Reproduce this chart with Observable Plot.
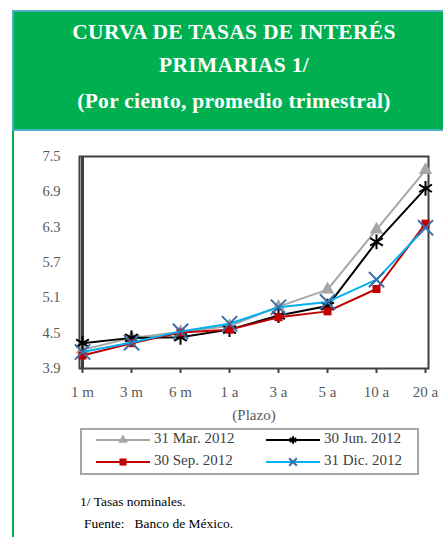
<!DOCTYPE html>
<html>
<head>
<meta charset="utf-8">
<script src="https://cdn.jsdelivr.net/npm/d3@7"></script>
<script src="https://cdn.jsdelivr.net/npm/@observablehq/plot@0.6"></script>
<style>
  html, body { margin: 0; padding: 0; background: #fff; }
  body { width: 443px; height: 537px; position: relative; overflow: hidden; font-family: "Liberation Serif", serif; }
  #header { position: absolute; left: 12px; top: 10px; width: 440px; height: 117px; background: #00B050;
    border: 2px solid #4BACC6; color: #fff; font-weight: bold; text-align: center; box-sizing: content-box; }
  #header div { position: absolute; left: 0; width: 440px; text-align: center; white-space: nowrap; font-size: 21.5px; letter-spacing: 0.3px; }
  #leftline { position: absolute; left: 12px; top: 131px; width: 2px; height: 406px; background: #00B050; }
  #chart { position: absolute; left: 0; top: 130px; }
  #legend { position: absolute; left: 80px; top: 428px; width: 335px; height: 43px; border: 2px solid #A6A6A6; }
  .item { position: absolute; height: 20px; font-size: 15px; color: #404040; white-space: nowrap; }
  .item svg { position: absolute; left: 0; top: 0; }
  .item span { position: absolute; left: 58px; top: -2px; }
  .note { position: absolute; font-size: 13.5px; color: #000; white-space: nowrap; }
</style>
</head>
<body>
<div id="header">
  <div style="top:8px;">CURVA DE TASAS DE INTERÉS</div>
  <div style="top:41px;">PRIMARIAS 1/</div>
  <div style="top:77px;">(Por ciento, promedio trimestral)</div>
</div>
<div id="leftline"></div>
<div id="chart"></div>
<div id="legend"></div>
<div class="note" style="left:80px;top:494px;">1/ Tasas nominales.</div>
<div class="note" style="left:84px;top:516px;">Fuente:&nbsp;&nbsp; Banco de México.</div>
<script>
const terms = ["1 m","3 m","6 m","1 a","3 a","5 a","10 a","20 a"];
const seriesNames = ["31 Mar. 2012","30 Jun. 2012","30 Sep. 2012","31 Dic. 2012"];
const mar = [4.22, 4.42, 4.52, 4.62, 4.95, 5.24, 6.26, 7.27];
const jun = [4.33, 4.42, 4.43, 4.56, 4.80, 4.96, 6.05, 6.96];
const sep = [4.12, 4.33, 4.51, 4.56, 4.77, 4.87, 5.25, 6.36];
const dec = [4.18, 4.34, 4.53, 4.66, 4.94, 5.03, 5.41, 6.29];
const yTicks = [3.9, 4.5, 5.1, 5.7, 6.3, 6.9, 7.5];

const FONT = "Liberation Serif";
const styles = [
  {line: "#A6A6A6", symbol: "triangle", fill: "#A6A6A6", stroke: "none", r: 5, sw: 0},
  {line: "#000000", symbol: "asterisk", fill: "none", stroke: "#000000", r: 7, sw: 2},
  {line: "#C00000", symbol: "square", fill: "#C00000", stroke: "none", r: 4.5, sw: 0},
  {line: "#00B0F0", symbol: "times", fill: "none", stroke: "#3A6EA5", r: 7, sw: 2}
];
const allSeries = [mar, jun, sep, dec];
const rows = allSeries.map((vals, i) => terms.map((t, j) => ({term: t, value: vals[j], series: seriesNames[i]})));

const marks = [
  Plot.frame({stroke: "#404040", strokeWidth: 2}),
  Plot.ruleX([terms[0]], {stroke: "#404040", strokeWidth: 3}),
  Plot.axisY({ticks: yTicks, tickSize: 0, tickPadding: 19, tickFormat: d => d.toFixed(1), fontSize: 14.5, fill: "#595959", label: null}),
  Plot.axisX({tickSize: 5, tickPadding: 13, fontSize: 15, fill: "#595959", stroke: "#404040", strokeWidth: 2, label: null}),
  Plot.text(["(Plazo)"], {text: d => d, frameAnchor: "bottom", dy: 51, fontSize: 15, fill: "#595959"})
];
rows.forEach((data, i) => {
  const s = styles[i];
  marks.push(Plot.line(data, {x: "term", y: "value", stroke: s.line, strokeWidth: 2}));
  marks.push(Plot.dot(data, {x: "term", y: "value", symbol: () => s.symbol, r: s.r, fill: s.fill, stroke: s.stroke, strokeWidth: s.sw}));
});

const chart = Plot.plot({
  width: 443,
  height: 295,
  marginLeft: 79,
  marginRight: 15,
  marginTop: 26,
  marginBottom: 57,
  style: {fontFamily: FONT, background: "transparent"},
  x: {type: "point", domain: terms, padding: 0},
  y: {domain: [3.9, 7.5], nice: false},
  symbol: {type: "identity"},
  marks
});
document.getElementById("chart").appendChild(chart);

const legend = document.getElementById("legend");
const pos = [[14, 2], [184, 2], [14, 24], [184, 24]];
seriesNames.forEach((name, i) => {
  const s = styles[i];
  const item = document.createElement("div");
  item.className = "item";
  item.style.left = pos[i][0] + "px";
  item.style.top = pos[i][1] + "px";
  const sym = d3.symbol(
    {triangle: d3.symbolTriangle, asterisk: d3.symbolAsterisk, square: d3.symbolSquare, times: d3.symbolTimes}[s.symbol],
    s.symbol === "square" ? 50 : 40
  )();
  item.innerHTML = `<svg width="56" height="16"><line x1="0" x2="54" y1="8" y2="8" stroke="${s.line}" stroke-width="2"/>` +
    `<path transform="translate(27,8)" d="${sym}" fill="${s.fill}" stroke="${s.stroke}" stroke-width="${s.sw || 0}"/></svg>` +
    `<span>${name}</span>`;
  legend.appendChild(item);
});
</script>
</body>
</html>
